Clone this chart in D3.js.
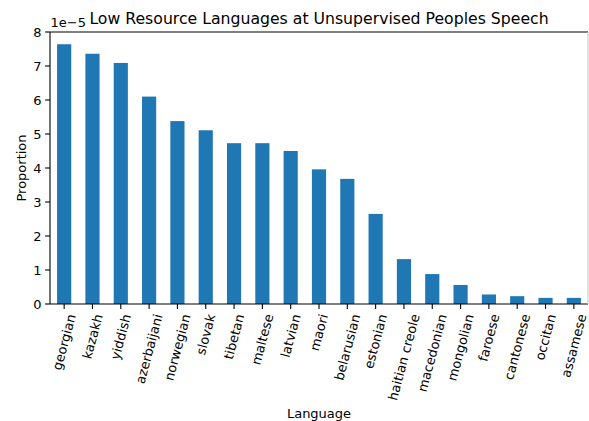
<!DOCTYPE html>
<html><head><meta charset="utf-8">
<script src="https://cdn.jsdelivr.net/npm/d3@7"></script>
<style>body{margin:0;background:#fff}svg{display:block}text{font-family:"DejaVu Sans",sans-serif;fill:#000}</style>
</head><body><svg id="c" width="589" height="421"></svg>
<script>
const languages = ["georgian","kazakh","yiddish","azerbaijani","norwegian","slovak","tibetan","maltese","latvian","maori","belarusian","estonian","haitian creole","macedonian","mongolian","faroese","cantonese","occitan","assamese"];
const proportions = [7.64e-5,7.36e-5,7.09e-5,6.10e-5,5.38e-5,5.11e-5,4.73e-5,4.73e-5,4.50e-5,3.96e-5,3.68e-5,2.65e-5,1.32e-5,0.88e-5,0.56e-5,0.28e-5,0.23e-5,0.18e-5,0.18e-5];
const yTicks = [0,1,2,3,4,5,6,7,8];
const titleText = "Low Resource Languages at Unsupervised Peoples Speech";

const svg = d3.select("#c");
const L = 50, R = 588, T = 32, B = 304;
const x = d3.scaleBand().domain(languages).range([L, R]).paddingInner(0.5).paddingOuter(0.25);
const y = d3.scaleLinear().domain([0, 8e-5]).range([B, T]);

svg.append("g").selectAll("rect").data(languages).join("rect")
  .attr("x", d => x(d)).attr("width", x.bandwidth())
  .attr("y", (d,i) => y(proportions[i])).attr("height", (d,i) => B - y(proportions[i]))
  .attr("fill", "#1f77b4");

// spines
const sp = svg.append("g").attr("stroke", "#000").attr("stroke-width", 1.1).attr("fill", "none");
sp.append("line").attr("x1", L).attr("x2", L).attr("y1", T).attr("y2", B);
sp.append("line").attr("x1", L).attr("x2", R).attr("y1", B).attr("y2", B);
sp.append("line").attr("x1", L).attr("x2", R).attr("y1", T).attr("y2", T);
sp.append("line").attr("x1", R).attr("x2", R).attr("y1", T).attr("y2", B).attr("stroke", "#ccc");

const fs = 13;
// y axis
const yg = svg.append("g");
yTicks.forEach(t => {
  const yy = y(t * 1e-5);
  yg.append("line").attr("x1", L - 4.9).attr("x2", L).attr("y1", yy).attr("y2", yy).attr("stroke", "#000").attr("stroke-width", 1.1);
  yg.append("text").attr("x", L - 8.5).attr("y", yy).attr("dy", "0.36em").attr("text-anchor", "end").attr("font-size", fs).text(t);
});
svg.append("text").attr("x", L + 0.5).attr("y", 27).attr("font-size", fs).text("1e\u22125");

// x axis
const xg = svg.append("g");
const ang = 75 * Math.PI / 180;
languages.forEach(d => {
  const cx = x(d) + x.bandwidth() / 2;
  xg.append("line").attr("x1", cx).attr("x2", cx).attr("y1", B).attr("y2", B + 4.9).attr("stroke", "#000").attr("stroke-width", 1.1);
  const t = xg.append("text").attr("font-size", fs).attr("text-anchor", "middle").text(d);
  const len = t.node().getComputedTextLength();
  const h = fs * 1.16;
  const bh = len * Math.sin(ang) + h * Math.cos(ang);
  const cy = B + 4.9 + 3.5 + bh / 2;
  t.attr("x", cx).attr("y", cy).attr("dy", "0.35em").attr("transform", `rotate(-75,${cx},${cy})`);
});

svg.append("text").attr("x", (L + R) / 2).attr("y", 418).attr("text-anchor", "middle").attr("font-size", fs).text("Language");
svg.append("text").attr("transform", `translate(26,${(T + B) / 2}) rotate(-90)`).attr("text-anchor", "middle").attr("font-size", fs).text("Proportion");
svg.append("text").attr("x", (L + R) / 2).attr("y", 23.5).attr("text-anchor", "middle").attr("font-size", 15.7).text(titleText);
</script></body></html>
